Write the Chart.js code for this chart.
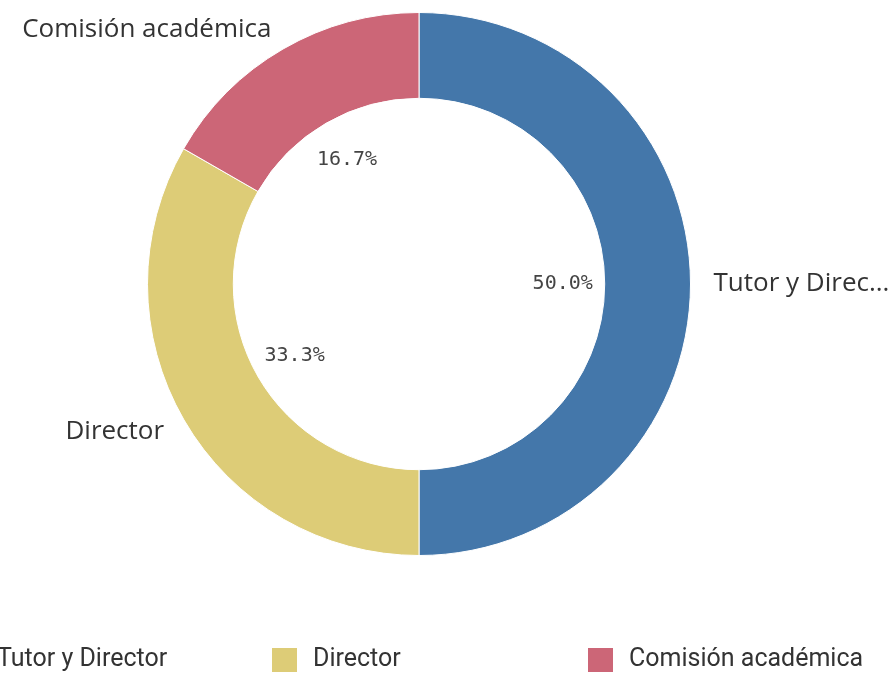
<!DOCTYPE html>
<html>
<head>
<meta charset="utf-8">
<script src="https://cdn.jsdelivr.net/npm/chart.js@4"></script>
<style>
  html, body { margin: 0; padding: 0; background: #fff; }
  #wrap { width: 890px; height: 675px; }
</style>
</head>
<body>
<div id="wrap"><canvas id="chart"></canvas></div>
<script>
const categories = ['Tutor y Director', 'Director', 'Comisión académica'];
const shortLabels = ['Tutor y Direc...', 'Director', 'Comisión académica'];
const values = [50.0, 33.3, 16.7];
const colors = ['#4477aa', '#ddcc77', '#cc6677'];

// labels outside the ring and percentages in the hole
const sliceLabels = {
    id: 'sliceLabels',
    afterDatasetsDraw(chart) {
        const ctx = chart.ctx;
        const meta = chart.getDatasetMeta(0);
        ctx.save();
        ctx.textBaseline = 'middle';
        meta.data.forEach((arc, i) => {
            const mid = (arc.startAngle + arc.endAngle) / 2;
            const cx = arc.x, cy = arc.y;
            const outR = arc.outerRadius + 23;
            const ox = cx + Math.cos(mid) * outR;
            const oy = cy + Math.sin(mid) * outR;
            ctx.fillStyle = '#333';
            ctx.font = '26px "Open Sans", sans-serif';
            ctx.textAlign = Math.cos(mid) >= -0.01 ? 'left' : 'right';
            ctx.fillText(shortLabels[i], ox, oy);

            const inR = arc.innerRadius - 42;
            ctx.font = '20px "DejaVu Sans Mono", monospace';
            ctx.textAlign = 'center';
            ctx.fillStyle = '#444';
            ctx.fillText(values[i].toFixed(1) + '%', cx + Math.cos(mid) * inR, cy + Math.sin(mid) * inR);
        });
        ctx.restore();
    }
};

// bottom legend, wider than the canvas (first item runs off the left edge)
const bottomLegend = {
    id: 'bottomLegend',
    afterDraw(chart) {
        const ctx = chart.ctx;
        const y = 660;
        const startX = -44, step = 316;
        ctx.save();
        ctx.textBaseline = 'middle';
        ctx.font = '25px "Liberation Sans Narrow", "Roboto", sans-serif';
        categories.forEach((c, i) => {
            const x = startX + i * step;
            ctx.fillStyle = colors[i];
            ctx.fillRect(x, y - 12, 25, 24);
            ctx.fillStyle = '#333';
            ctx.textAlign = 'left';
            ctx.fillText(c, x + 41, y);
        });
        ctx.restore();
    }
};

new Chart(document.getElementById('chart'), {
    type: 'doughnut',
    data: {
        labels: categories,
        datasets: [{
            data: values,
            backgroundColor: colors,
            borderColor: '#ffffff',
            borderWidth: 1,
            hoverOffset: 0
        }]
    },
    options: {
        responsive: true,
        maintainAspectRatio: false,
        animation: false,
        cutout: '68.4%',
        layout: {
            padding: { left: 147, right: 199, top: 12, bottom: 119 }
        },
        plugins: {
            legend: { display: false },
            tooltip: { enabled: false }
        }
    },
    plugins: [sliceLabels, bottomLegend]
});
</script>
</body>
</html>
